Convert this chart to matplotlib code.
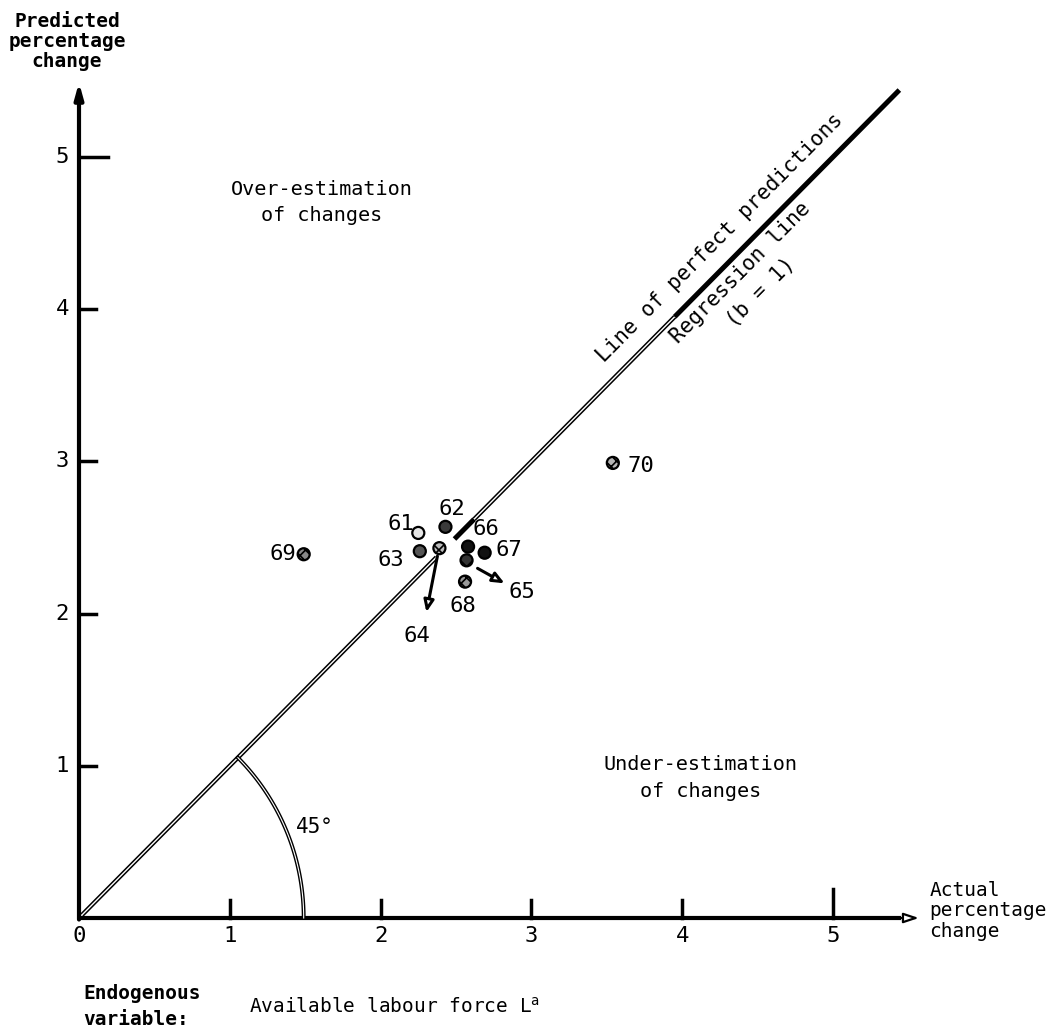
import numpy as np
import matplotlib.pyplot as plt

plt.rcParams['font.family'] = ['DejaVu Sans Mono', 'DejaVu Sans']

# years (point labels) with actual and predicted percentage change
years = ['61', '62', '63', '64', '65', '66', '67', '68', '69', '70']
actual = [2.25, 2.43, 2.26, 2.39, 2.57, 2.58, 2.69, 2.56, 1.49, 3.54]
predicted = [2.53, 2.57, 2.41, 2.43, 2.35, 2.44, 2.40, 2.21, 2.39, 2.99]

x_ticks = [1, 2, 3, 4, 5]
y_ticks = [1, 2, 3, 4, 5]

# marker look per year
faces = ['#e6e6e6', '#3a3a3a', '#555555', '#bbbbbb', '#333333',
         '#111111', '#111111', '#9a9a9a', '#8a8a8a', '#b5b5b5']
hatches = ['', '', '', 'xxx', 'xx', '', '', 'xxx', 'xxx', 'xxx']

# label offsets from the marker, in pixels (dx right, dy down)
label_off = {'61': (-17, -9), '62': (6, -18), '63': (-29, 9), '64': (-23, 88),
             '65': (55, 32), '66': (18, -18), '67': (24, -3), '68': (-2, 24),
             '69': (-21, 0), '70': (28, 3)}
# leader lines with small open heads (start, end) in pixels from marker
leaders = {'64': ((-2, 8), (-13, 64)), '65': ((11, 8), (38, 23))}

PX = 72 / 100  # pixels -> points

fig = plt.figure(figsize=(10.55, 10.35), dpi=100)
ax = fig.add_axes([0, 0, 1, 1])
# origin at pixel (79, 918); one unit = 150.8 px across, 152.2 px up
ax.set_xlim(-79 / 150.8, (1055 - 79) / 150.8)
ax.set_ylim((918 - 1035) / 152.2, 918 / 152.2)
ax.axis('off')

# axes with arrows
ax.annotate('', xy=(0, 5.49), xytext=(0, -0.01),
            arrowprops=dict(arrowstyle='-|>,head_width=0.25,head_length=0.9',
                            lw=3, color='black', shrinkA=0, shrinkB=0))
ax.plot([-0.01, 5.45], [0, 0], color='black', lw=3, solid_capstyle='butt')
ax.annotate('', xy=(5.57, 0), xytext=(5.40, 0),
            arrowprops=dict(arrowstyle='-|>,head_width=0.3,head_length=0.9',
                            lw=1.6, ec='black', fc='white', shrinkA=0, shrinkB=0))

for t in x_ticks:
    ax.plot([t, t], [0, 0.19 if t == 5 else 0.12], color='black', lw=2.5)
    ax.text(t, -0.115, str(t), ha='center', va='center', fontsize=16)
for t in y_ticks:
    ax.plot([0, 0.19 if t == 5 else 0.115], [t, t], color='black', lw=2.5)
    ax.text(-0.11, t, str(t), ha='center', va='center', fontsize=16)
ax.text(0, -0.115, '0', ha='center', va='center', fontsize=16)


def hollow(x0, x1):
    xs = [x0, x1]
    ax.plot(xs, xs, color='black', lw=3.2, solid_capstyle='butt')
    ax.plot(xs, xs, color='white', lw=1.0, solid_capstyle='butt')


def solid(x0, x1):
    ax.plot([x0, x1], [x0, x1], color='black', lw=3.6, solid_capstyle='butt')


# line of perfect predictions / regression line
hollow(0.02, 2.37)
solid(2.49, 2.62)
hollow(2.62, 3.95)
solid(3.95, 5.44)

# 45 degree arc
theta = np.linspace(0, np.pi / 4, 60)
r = 1.49
ax.plot(r * np.cos(theta), r * np.sin(theta), color='black', lw=2.8)
ax.plot(r * np.cos(theta), r * np.sin(theta), color='white', lw=0.8)
ax.text(1.565, 0.60, '45°', ha='center', va='center', fontsize=15)

# data points
plt.rcParams['hatch.linewidth'] = 1.2
for i, y in enumerate(years):
    ax.scatter(actual[i], predicted[i], s=75, facecolor=faces[i], edgecolor='black',
               linewidth=1.6, hatch=hatches[i], zorder=5)
    dx, dy = label_off[y]
    ax.annotate(y, xy=(actual[i], predicted[i]), xytext=(dx * PX, -dy * PX),
                textcoords='offset points', ha='center', va='center', fontsize=16)
    if y in leaders:
        (sx, sy), (ex, ey) = leaders[y]
        ax.annotate('',
                    xy=(actual[i] + ex / 150.8, predicted[i] - ey / 152.2),
                    xytext=(actual[i] + sx / 150.8, predicted[i] - sy / 152.2),
                    arrowprops=dict(arrowstyle='-|>,head_width=0.3,head_length=0.7',
                                    lw=2.2, ec='black', fc='white',
                                    shrinkA=0, shrinkB=0), zorder=4)

# line labels
ang = np.degrees(np.arctan2(152.2, 150.8))
ax.text(4.25, 4.47, 'Line of perfect predictions', rotation=ang, ha='center',
        va='center', rotation_mode='anchor', fontsize=15)
ax.text(4.39, 4.24, 'Regression line', rotation=ang, ha='center',
        va='center', rotation_mode='anchor', fontsize=15)
ax.text(4.52, 4.11, '(b = 1)', rotation=ang, ha='center',
        va='center', rotation_mode='anchor', fontsize=15)

# region and axis texts
ax.text(-0.08, 5.76, 'Predicted\npercentage\nchange', ha='center', va='center',
        fontsize=14, linespacing=1.05, fontweight='bold')
ax.text(1.61, 4.70, 'Over-estimation\nof changes', ha='center', va='center',
        fontsize=14.5, linespacing=1.5)
ax.text(4.12, 0.92, 'Under-estimation\nof changes', ha='center', va='center',
        fontsize=14.5, linespacing=1.5)
ax.text(5.64, 0.046, 'Actual\npercentage\nchange', ha='left', va='center',
        fontsize=14, linespacing=1.1)
ax.text(0.027, -0.58, 'Endogenous\nvariable:', ha='left', va='center',
        fontsize=14, linespacing=1.5, fontweight='bold')
ax.text(1.13, -0.585, 'Available labour force L$^{\\mathrm{a}}$', ha='left',
        va='center', fontsize=14)

fig.savefig('out.png', dpi=100)
